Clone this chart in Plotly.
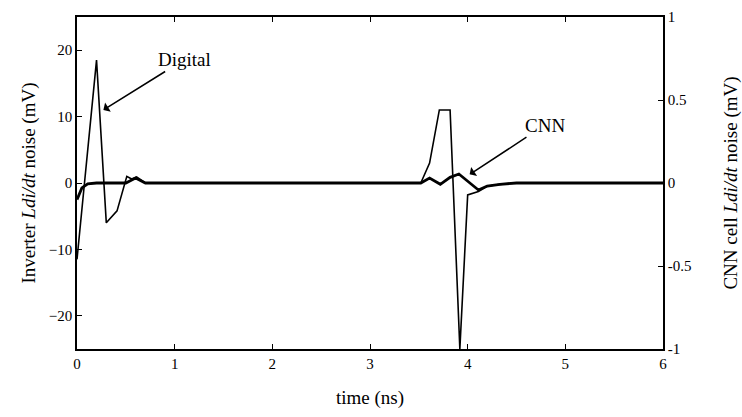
import plotly.graph_objects as go

# Digital inverter Ldi/dt noise (mV), left axis
t_digital = [0.0, 0.2, 0.3, 0.41, 0.51, 0.56, 0.61, 0.7, 1.0, 2.0, 3.0, 3.52, 3.61, 3.71, 3.82, 3.92, 4.0, 4.11, 4.2, 4.33, 4.5, 5.0, 6.0]
v_digital = [-11.5, 18.5, -6.0, -4.2, 1.0, 0.6, 0.9, 0.0, 0.0, 0.0, 0.0, 0.0, 3.0, 11.0, 11.0, -25.0, -1.8, -1.3, -0.5, -0.2, 0.0, 0.0, 0.0]

# CNN cell Ldi/dt noise (mV), right axis
t_cnn = [0.0, 0.05, 0.11, 0.2, 0.5, 0.6, 0.7, 1.0, 2.0, 3.0, 3.52, 3.61, 3.72, 3.82, 3.91, 4.11, 4.2, 4.33, 4.5, 5.0, 6.0]
v_cnn = [-0.1, -0.03, -0.005, 0.0, 0.0, 0.03, 0.0, 0.0, 0.0, 0.0, 0.0, 0.03, -0.008, 0.034, 0.054, -0.042, -0.018, -0.008, 0.0, 0.0, 0.0]

x_ticks = [0, 1, 2, 3, 4, 5, 6]
y_ticks = [-20, -10, 0, 10, 20]
y2_ticks = [-1, -0.5, 0, 0.5, 1]
y2_labels = ["-1", "-0.5", "0", "0.5", "1"]

FONT = "Liberation Serif, Times New Roman, serif"

fig = go.Figure()
fig.add_trace(go.Scatter(x=t_digital, y=v_digital, mode="lines",
                         line=dict(color="black", width=1.6), yaxis="y", showlegend=False))
fig.add_trace(go.Scatter(x=t_cnn, y=v_cnn, mode="lines",
                         line=dict(color="black", width=2.8), yaxis="y2", showlegend=False))

fig.add_annotation(x=0.27, y=11, ax=1.1, ay=18.6, xref="x", yref="y", axref="x", ayref="y",
                   text="Digital", showarrow=True, arrowhead=1, arrowsize=1.2, arrowwidth=1.5,
                   arrowcolor="black", standoff=0, startstandoff=0,
                   font=dict(family=FONT, size=19, color="black"))
fig.add_annotation(x=4.02, y=1.3, ax=4.79, ay=8.7, xref="x", yref="y", axref="x", ayref="y",
                   text="CNN", showarrow=True, arrowhead=1, arrowsize=1.2, arrowwidth=1.5,
                   arrowcolor="black", standoff=0, startstandoff=0,
                   font=dict(family=FONT, size=19, color="black"))

axis_common = dict(showgrid=False, zeroline=False, showline=True, linecolor="black", linewidth=1.6,
                   ticks="inside", ticklen=5, tickcolor="black", tickwidth=1.2, automargin=False,
                   tickfont=dict(family=FONT, size=15, color="black"))

fig.update_layout(
    width=742, height=417,
    margin=dict(l=77, r=79, t=17, b=68),
    paper_bgcolor="white", plot_bgcolor="white",
    font=dict(family=FONT, color="black"),
    xaxis=dict(range=[0, 6], tickvals=x_ticks, mirror="ticks",
               title=dict(text="time (ns)", font=dict(family=FONT, size=19), standoff=20),
               **axis_common),
    yaxis=dict(range=[-25, 25], tickvals=y_ticks,
               title=dict(text="Inverter <i>Ldi/dt</i> noise (mV)", font=dict(family=FONT, size=19), standoff=8),
               **axis_common),
    yaxis2=dict(range=[-1, 1], tickvals=y2_ticks, ticktext=y2_labels, overlaying="y", side="right",
                title=dict(text="CNN cell <i>Ldi/dt</i> noise (mV)", font=dict(family=FONT, size=19), standoff=42),
                **axis_common),
)

fig.write_html("out.html")
